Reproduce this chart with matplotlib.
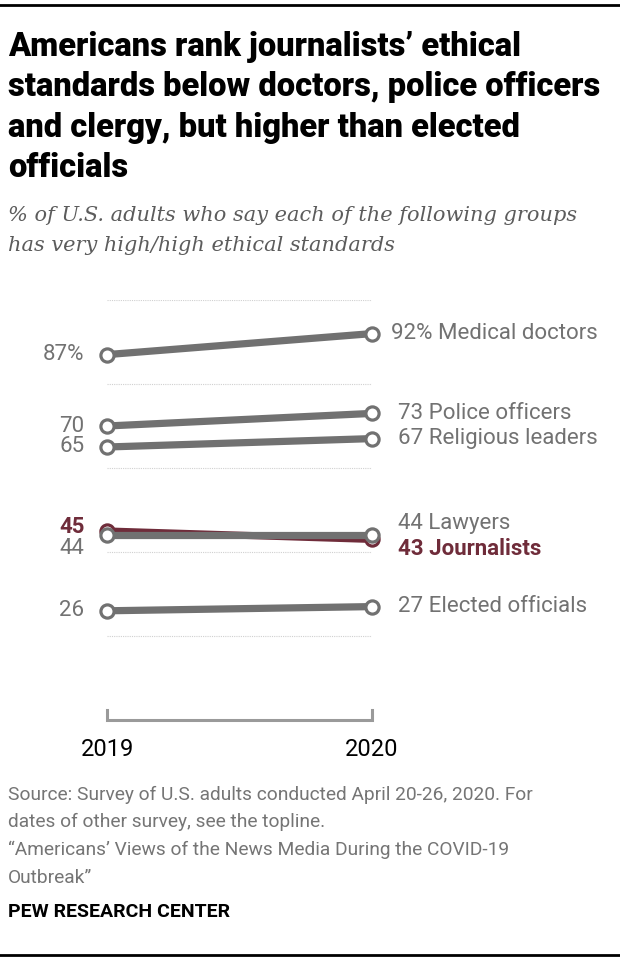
import matplotlib
matplotlib.use("Agg")
from matplotlib import pyplot as plt
from matplotlib.lines import Line2D

years = [2019, 2020]
groups = ["Medical doctors", "Police officers", "Religious leaders",
          "Lawyers", "Journalists", "Elected officials"]
val_2019 = [87, 70, 65, 44, 45, 26]
val_2020 = [92, 73, 67, 44, 43, 27]
left_labels = ["87%", "70", "65", "44", "45", "26"]
right_labels = ["92%", "73", "67", "44", "43", "27"]

GRAY = "#717171"
TEXT_GRAY = "#727272"
RED = "#6f2c3a"

fig = plt.figure(figsize=(6.2, 9.6), dpi=100)
ax = fig.add_axes([107 / 620, 0.25, (372 - 107) / 620, 0.4375])
ax.set_xlim(2019, 2020)
ax.set_ylim(0, 100)
ax.axis("off")

# dotted gridlines
for g in [20, 40, 60, 80, 100]:
    ax.plot([2019, 2020], [g, g], color="#d0d0d0", lw=0.8, ls=(0, (1, 1)), zorder=0)

# bracket axis at the bottom
ax.plot([2019, 2019, 2020, 2020], [2.5, 0, 0, 2.5], color="#9a9a9a", lw=2.2,
        clip_on=False, solid_joinstyle="miter")

order = [4, 0, 1, 2, 3, 5]  # journalists first so lawyers sits on top
for i in order:
    c = RED if groups[i] == "Journalists" else GRAY
    ax.plot(years, [val_2019[i], val_2020[i]], color=c, lw=5.2,
            marker="o", ms=9.5, mfc="white", mec=c, mew=2.3,
            clip_on=False, zorder=3 if c == GRAY else 2, solid_capstyle="butt")

# value labels
dy_left = {"Lawyers": -3.1, "Journalists": 1.0}
dy_right = {"Lawyers": 2.9, "Journalists": -2.4}
for i, name in enumerate(groups):
    c = RED if name == "Journalists" else TEXT_GRAY
    w = "bold" if name == "Journalists" else "normal"
    ax.text(2019 - 0.085, val_2019[i] + dy_left.get(name, 0), left_labels[i],
            ha="right", va="center", fontsize=16, color=c, fontweight=w,
            family="Roboto")
    xoff = 0.07 if right_labels[i].endswith("%") else 0.1
    ax.text(2020 + xoff, val_2020[i] + dy_right.get(name, 0),
            right_labels[i] + " " + name, ha="left", va="center",
            fontsize=16, color=c, fontweight=w, family="Roboto")

for yr in years:
    ax.text(yr, -7, str(yr), ha="center", va="center", fontsize=17,
            color="black", family="Roboto")

# title block
title = ("Americans rank journalists\u2019 ethical\n"
         "standards below doctors, police officers\n"
         "and clergy, but higher than elected\n"
         "officials")
fig.text(8 / 620, 1 - 31 / 960, title, ha="left", va="top", fontsize=23.5,
         fontweight="black", family="Roboto", linespacing=1.33)
subtitle = ("% of U.S. adults who say each of the following groups\n"
            "has very high/high ethical standards")
fig.text(8 / 620, 1 - 206 / 960, subtitle, ha="left", va="top", fontsize=15,
         style="italic", family="DejaVu Serif", color="#5c5c5c",
         linespacing=1.72)

note = ("Source: Survey of U.S. adults conducted April 20-26, 2020. For\n"
        "dates of other survey, see the topline.\n"
        "\u201cAmericans\u2019 Views of the News Media During the COVID-19\n"
        "Outbreak\u201d")
fig.text(8 / 620, 1 - 786 / 960, note, ha="left", va="top", fontsize=13.8,
         color="#757575", family="Roboto", linespacing=1.66)
fig.text(8 / 620, 1 - 903 / 960, "PEW RESEARCH CENTER", ha="left", va="top",
         fontsize=14, fontweight="bold", family="Roboto", color="black")

fig.add_artist(Line2D([0, 1], [1 - 5 / 960, 1 - 5 / 960], color="black", lw=2))
fig.add_artist(Line2D([0, 1], [1 - 955 / 960, 1 - 955 / 960], color="black", lw=2))

fig.savefig("out.png", dpi=100)
